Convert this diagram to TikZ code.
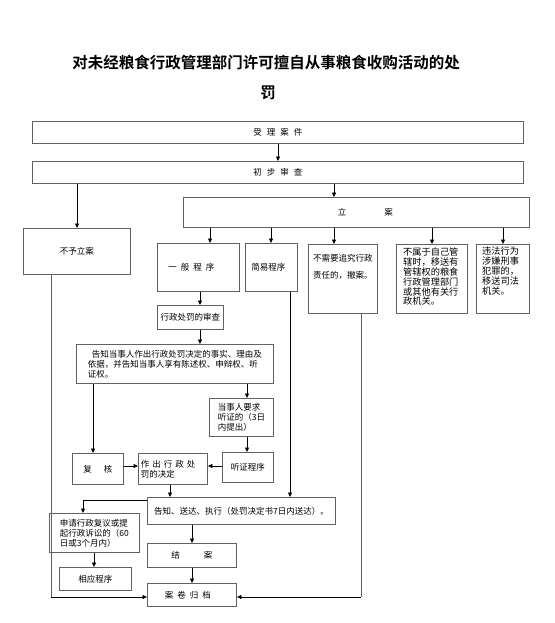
\documentclass[tikz,border=0pt]{standalone}
\usepackage{fontspec}
\setmainfont{Noto Sans CJK SC}
\newfontfamily\titlefont{Noto Sans CJK SC}[BoldFont={* Bold}]
\usetikzlibrary{arrows.meta}
\begin{document}
\begin{tikzpicture}[x=1pt,y=-1pt,
  box/.style={draw=black!62, line width=0.9pt, anchor=north west, inner sep=0pt,
    font=\fontsize{8.5}{10}\selectfont, align=center},
  txt/.style={anchor=north west, inner sep=0pt, font=\fontsize{8.5}{10}\selectfont, align=left},
  arr/.style={draw=black, line width=0.7pt, -{Triangle[length=4.5pt,width=4pt]}},
  ln/.style={draw=black!62, line width=0.9pt}]
\useasboundingbox (0,0) rectangle (554,623);
% title
\node[font=\titlefont\bfseries\fontsize{15.5}{18}\selectfont, inner sep=0pt] (title1) at (266,63) {对未经粮食行政管理部门许可擅自从事粮食收购活动的处};
\node[font=\titlefont\bfseries\fontsize{15.5}{18}\selectfont, inner sep=0pt] (title2) at (268,93) {罚};
% boxes
\node[box, minimum width=491pt, minimum height=22pt] (shouli) at (32,121) {受\kern5pt理\kern5pt案\kern5pt件};
\node[box, minimum width=491pt, minimum height=22pt] (chubu) at (32,161) {初\kern5pt步\kern5pt审\kern5pt查};
\node[box, minimum width=107pt, minimum height=46pt] (buyu) at (23,228) {不予立案};
\node[box, minimum width=346pt, minimum height=30pt] (lian) at (183,197) {\kern18pt立\kern38pt案};
\node[box, minimum width=82pt, minimum height=48pt] (yiban) at (157,243) {一\kern4pt般\kern4pt程\kern4pt序\kern14pt};
\node[box, minimum width=52pt, minimum height=48pt] (jianyi) at (245,243) {简易程序\kern6pt};
\node[box, minimum width=69pt, minimum height=69pt] (buxu) at (308,244) {};
\node[txt] (buxut) at (313,254) {不需要追究行政\\[7pt]责任的，撤案。};
\node[box, minimum width=71pt, minimum height=69pt] (bushu) at (396,244) {};
\node[txt, font=\fontsize{9.2}{9.8}\selectfont] (bushut) at (403,248) {不属于自己管\\辖时，移送有\\管辖权的粮食\\行政管理部门\\或其他有关行\\政机关。};
\node[box, minimum width=53pt, minimum height=69pt] (weifa) at (476,244) {};
\node[txt, font=\fontsize{9.2}{9.8}\selectfont] (weifat) at (482,247) {违法行为\\涉嫌刑事\\犯罪的，\\移送司法\\机关。};
\node[box, minimum width=66pt, minimum height=24pt] (shencha) at (157,305) {行政处罚的审查};
\node[box, minimum width=197pt, minimum height=39pt, align=left] (gaozhi) at (76,344) {\kern4pt告知当事人作出行政处罚决定的事实、理由及\\依据，并告知当事人享有陈述权、申辩权、听\\证权。};
\node[box, minimum width=64pt, minimum height=38pt, align=left] (yaoqiu) at (209,398) {当事人要求\\听证的（3日\\内提出）};
\node[box, minimum width=51pt, minimum height=30pt] (tingzheng) at (222,452) {听证程序};
\node[box, minimum width=69pt, minimum height=31pt, align=left] (zuochu) at (138,453) {作\kern3pt出\kern3pt行\kern3pt政\kern3pt处\\罚的决定\kern30pt};
\node[box, minimum width=51pt, minimum height=31pt] (fuhe) at (72,453) {复\kern12pt核};
\node[box, minimum width=188pt, minimum height=27pt] (songda) at (147,497) {告知、送达、执行（处罚决定书7日内送达）。};
\node[box, minimum width=90pt, minimum height=39pt, align=left] (shenqing) at (49,513) {申请行政复议或提\\起行政诉讼的（60\\日或3个月内）};
\node[box, minimum width=72pt, minimum height=23pt] (xiangying) at (59,567) {相应程序};
\node[box, minimum width=89pt, minimum height=24pt] (jiean) at (147,543) {结\kern24pt案};
\node[box, minimum width=89pt, minimum height=23pt] (dangan) at (147,583) {案\kern4pt卷\kern4pt归\kern4pt档\kern8pt};
% column coordinates
\coordinate (cmain) at (278,0);
\coordinate (cA) at (77,0);
\coordinate (cB) at (334,0);
\coordinate (cC) at (210,0);
\coordinate (cD) at (271,0);
\coordinate (cF) at (432,0);
\coordinate (cG) at (503,0);
\coordinate (cH) at (200,0);
\coordinate (cI) at (51,0);
\coordinate (cJ) at (290,0);
\coordinate (cK) at (361,0);
\coordinate (cL) at (93,0);
\coordinate (cM) at (247,0);
\coordinate (cN) at (170,0);
\coordinate (cO) at (83,0);
\coordinate (cP) at (94,0);
\coordinate (cQ) at (192,0);
\coordinate (rBot) at (0,597);
\coordinate (rMid) at (0,466);
\coordinate (rTop) at (0,500);
% connectors
\draw[arr] (shouli.south -| cmain) -- (chubu.north -| cmain);
\draw[arr] (chubu.south -| cA) -- (buyu.north -| cA);
\draw[arr] (chubu.south -| cB) -- (lian.north -| cB);
\draw[arr] (lian.south -| cC) -- (yiban.north -| cC);
\draw[arr] (lian.south -| cD) -- (jianyi.north -| cD);
\draw[arr] (lian.south -| cB) -- (buxu.north -| cB);
\draw[arr] (lian.south -| cF) -- (bushu.north -| cF);
\draw[arr] (lian.south -| cG) -- (weifa.north -| cG);
\draw[arr] (yiban.south -| cH) -- (shencha.north -| cH);
\draw[arr] (shencha.south -| cH) -- (gaozhi.north -| cH);
\draw[arr] (gaozhi.south -| cL) -- (fuhe.north -| cL);
\draw[arr] (gaozhi.south -| cM) -- (yaoqiu.north -| cM);
\draw[arr] (yaoqiu.south -| cM) -- (tingzheng.north -| cM);
\draw[arr] (tingzheng.west |- rMid) -- (zuochu.east |- rMid);
\draw[arr] (fuhe.east |- rMid) -- (zuochu.west |- rMid);
\draw[arr] (zuochu.south -| cN) -- (songda.north -| cN);
\draw[arr] (jianyi.south -| cJ) -- (songda.north -| cJ);
\draw[arr] (songda.west |- rTop) -| (shenqing.north -| cO);
\draw[arr] (shenqing.south -| cP) -- (xiangying.north -| cP);
\draw[arr] (songda.south -| cQ) -- (jiean.north -| cQ);
\draw[arr] (jiean.south -| cQ) -- (dangan.north -| cQ);
\draw[ln] (buyu.south -| cI) -- (cI |- rBot);
\draw[arr] (cI |- rBot) -- (dangan.west |- rBot);
\draw[ln] (buxu.south -| cK) -- (cK |- rBot);
\draw[arr] (cK |- rBot) -- (dangan.east |- rBot);
\end{tikzpicture}
\end{document}
